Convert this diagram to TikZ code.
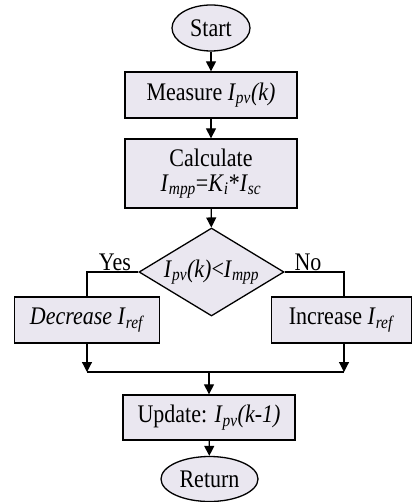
\documentclass[tikz,border=0pt]{standalone}
\usepackage{fontspec}
\usepackage{graphicx}
\setmainfont{Liberation Serif}
\usetikzlibrary{shapes.geometric,arrows.meta}
\definecolor{boxfill}{RGB}{234,231,240}
\newcommand{\iv}[2]{\textit{#1}\textsubscript{\textit{#2}}}
\newcommand{\vs}[1]{\scalebox{1}[1.15]{#1}}
\begin{document}
\begin{tikzpicture}[x=1pt,y=-1pt,
  every node/.style={font=\fontsize{22}{26}\selectfont},
  boxnode/.style={draw,line width=1.3pt,fill=boxfill,rectangle,inner sep=0pt,align=center},
  termnode/.style={draw,line width=1.3pt,fill=boxfill,ellipse,inner sep=0pt},
  conn/.style={line width=1.2pt},
  arr/.style={line width=1.2pt,-{Triangle[length=10pt,width=10pt]}},
  lbl/.style={inner sep=0pt}]
\useasboundingbox (0,0) rectangle (415,502);
\node[termnode,minimum width=78pt,minimum height=46pt] (start) at (211,28) {\vs{Start}};
\node[boxnode,minimum width=172pt,minimum height=46pt] (meas) at (211,95) {\vs{Measure \iv{I}{pv}\textit{(k)}}};
\node[boxnode,minimum width=172pt,minimum height=69pt] (calc) at (211,173.5) {\vs{Calculate}\\[-1pt]\vs{\iv{I}{mpp}=\iv{K}{i}*\iv{I}{sc}}};
\node[draw,line width=1.3pt,fill=boxfill,diamond,minimum width=145pt,minimum height=88pt,inner sep=0pt] (dec) at (211.5,272) {};
\node[lbl] (dectxt) at (211.5,272) {\vs{\iv{I}{pv}\textit{(k)}<\iv{I}{mpp}}};
\node[boxnode,minimum width=145pt,minimum height=46pt] (decr) at (87.3,320) {\vs{\textit{Decrease} \iv{I}{ref}}};
\node[boxnode,minimum width=140pt,minimum height=46pt] (incr) at (341.7,320) {\vs{Increase \iv{I}{ref}}};
\node[boxnode,minimum width=172pt,minimum height=45pt] (upd) at (209,417.5) {\vs{Update: \iv{I}{pv}\textit{(k-1)}}};
\node[termnode,minimum width=97pt,minimum height=45pt] (ret) at (209.5,479) {\vs{Return}};
\node[lbl] (yes) at (115,262) {\vs{Yes}};
\node[lbl] (no) at (308,262) {\vs{No}};
\coordinate (j1) at (87,372);
\coordinate (j2) at (344,372);
\coordinate (jm) at (209,372);
\coordinate (lt) at (87,297);
\coordinate (rt) at (344,297);
\coordinate (lb) at (87,343);
\coordinate (rb) at (344,343);
\draw[arr] (start) -- (meas);
\draw[arr] (meas) -- (calc);
\draw[arr] (calc) -- (dec);
\draw[conn] (dec.west) -| (lt);
\draw[conn] (dec.east) -| (rt);
\draw[arr] (lb) -- (j1);
\draw[arr] (rb) -- (j2);
\draw[conn] (j1) -- (j2);
\draw[arr] (jm) -- (upd);
\draw[arr] (upd) -- (ret);
\end{tikzpicture}
\end{document}
